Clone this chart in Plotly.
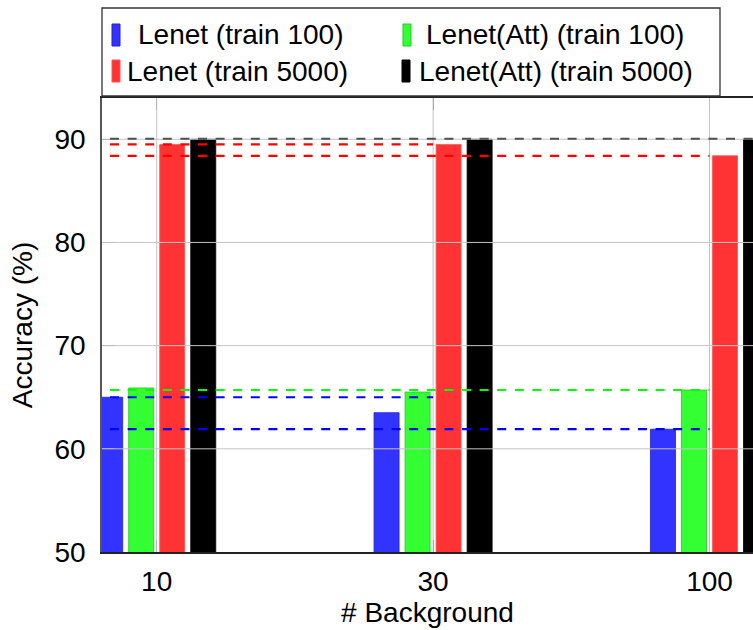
import plotly.graph_objects as go

# ---------------- data ----------------
categories = ["10", "30", "100"]
series_names = ["Lenet (train 100)", "Lenet(Att) (train 100)",
                "Lenet (train 5000)", "Lenet(Att) (train 5000)"]
lenet_100 = [65.0, 63.5, 61.9]
lenet_att_100 = [65.9, 65.5, 65.7]
lenet_5000 = [89.5, 89.5, 88.4]
lenet_att_5000 = [90.0, 90.0, 90.0]

# reference (dashed) lines: level, last category index reached, colour key
ref_levels = [90.05, 89.5, 88.4, 65.7, 65.0, 61.9]
ref_end_index = [2.3, 1, 2, 2, 1, 2]
ref_colors = ["#505050", "#ff0000", "#ff0000", "#00ff00", "#0000ff", "#0000ff"]

y_ticks = [50, 60, 70, 80, 90]

# ---------------- style ----------------
W, H = 753, 630
ML, MR, MT, MB = 102, 0, 98, 78
PW, PH = W - ML - MR, H - MT - MB
FONT = "Liberation Sans, Arial, sans-serif"
FS = 28
bar_colors = ["#3333ff", "#33ff33", "#ff3333", "#000000"]
bar_lines = ["#2222cc", "#22cc22", "#ff5555", "#000000"]

x_pos = list(range(len(categories)))
x_range = [-0.1979, 2.1574]
y_range = [50, 94.0]

fig = go.Figure()
for name, vals, col, lc in zip(series_names,
                               [lenet_100, lenet_att_100, lenet_5000, lenet_att_5000],
                               bar_colors, bar_lines):
    fig.add_trace(go.Bar(x=x_pos, y=vals, name=name, marker_color=col,
                         marker_line_color=lc, marker_line_width=0.8,
                         showlegend=False))

shapes = []
# grid drawn on top of bars (axis on top)
for yv in y_ticks[1:]:
    shapes.append(dict(type="line", xref="paper", yref="y", x0=0, x1=1, y0=yv, y1=yv,
                       line=dict(color="#c4c4c4", width=1), layer="above"))
for xv in x_pos:
    shapes.append(dict(type="line", xref="x", yref="paper", x0=xv, x1=xv, y0=0, y1=1,
                       line=dict(color="#c4c4c4", width=1), layer="above"))
# dashed reference lines
for lvl, end, col in zip(ref_levels, ref_end_index, ref_colors):
    shapes.append(dict(type="line", xref="x", yref="y", x0=x_range[0], x1=end,
                       y0=lvl, y1=lvl,
                       line=dict(color=col, width=2.2, dash="0px,8px,9px,0.6px"),
                       layer="above"))


# ---------------- manual legend ----------------
def xp(px):
    return (px - ML) / PW


def yp(py):
    return (H - MB - py) / PH


shapes.append(dict(type="rect", xref="paper", yref="paper",
                   x0=xp(102), x1=xp(720), y0=yp(8), y1=yp(96),
                   line=dict(color="#333333", width=1.3), fillcolor="white", layer="above"))
leg_swatch_x = [112, 403, 112, 402]
leg_text_x = [136, 424, 125, 417]
leg_row_y = [35, 71]
leg_order = [0, 1, 2, 3]
annotations = []
for k, si in enumerate(leg_order):
    row = k // 2
    cy = leg_row_y[row]
    sx = leg_swatch_x[k]
    shapes.append(dict(type="rect", xref="paper", yref="paper",
                       x0=xp(sx), x1=xp(sx + 8), y0=yp(cy + 11), y1=yp(cy - 11),
                       line=dict(color=bar_lines[si], width=1), fillcolor=bar_colors[si],
                       layer="above"))
    annotations.append(dict(xref="paper", yref="paper", x=xp(leg_text_x[k]), y=yp(cy),
                            text=series_names[si], showarrow=False,
                            xanchor="left", yanchor="middle",
                            font=dict(family=FONT, size=FS, color="black")))

fig.update_layout(
    width=W, height=H,
    margin=dict(l=ML, r=MR, t=MT, b=MB, pad=0),
    paper_bgcolor="white", plot_bgcolor="white",
    barmode="group", bargap=0.551, bargroupgap=0.193,
    font=dict(family=FONT, size=FS, color="black"),
    shapes=shapes, annotations=annotations,
    xaxis=dict(range=x_range, tickvals=x_pos, ticktext=categories,
               showgrid=False, zeroline=False,
               showline=True, linecolor="#222222", linewidth=1.5, mirror="allticks",
               ticks="inside", ticklen=12, tickcolor="#808080", tickwidth=1.3,
               ticklabelstandoff=4,
               title=dict(text="# Background", standoff=6,
                          font=dict(family=FONT, size=FS))),
    yaxis=dict(range=y_range, tickvals=y_ticks,
               showgrid=False, zeroline=False,
               showline=True, linecolor="#555555", linewidth=1.5,
               ticks="inside", ticklen=13, tickcolor="#808080", tickwidth=1.3,
               ticklabelstandoff=9,
               title=dict(text="Accuracy (%)", standoff=14,
                          font=dict(family=FONT, size=FS))),
)

fig.write_html("out.html")
